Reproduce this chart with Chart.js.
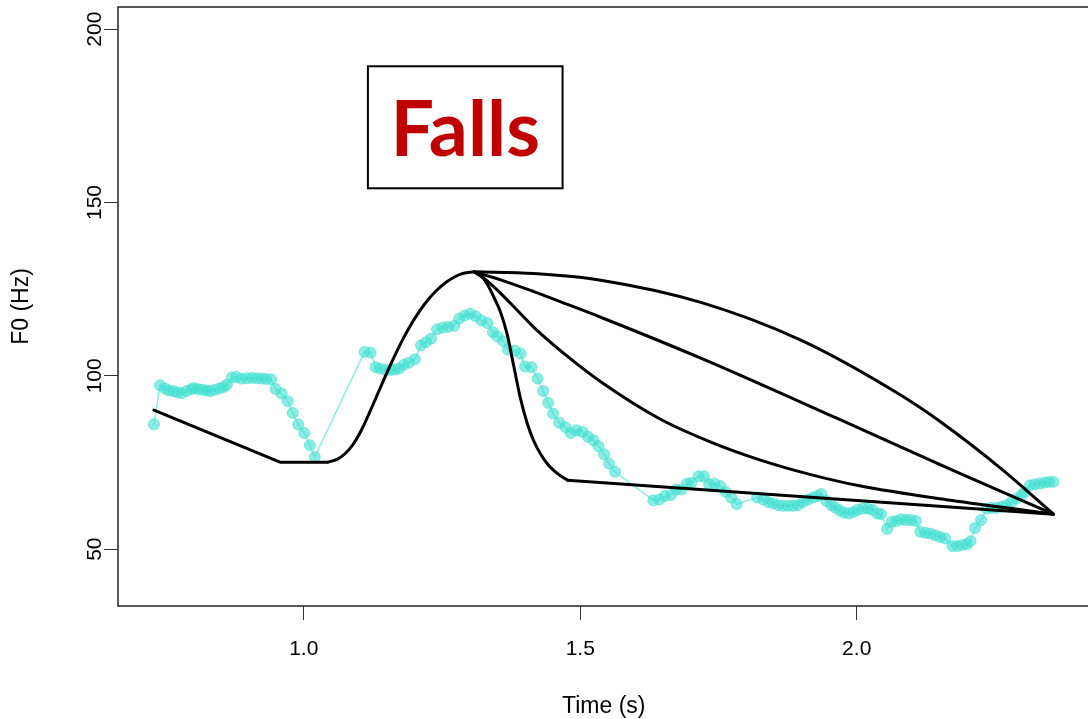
<!DOCTYPE html>
<html>
<head>
<meta charset="utf-8">
<script src="https://cdn.jsdelivr.net/npm/chart.js@4.4.1/dist/chart.umd.min.js"></script>
<style>
  html, body { margin: 0; padding: 0; background: #ffffff; overflow: hidden; }
  #wrap { width: 1088px; height: 719px; overflow: hidden; }
  canvas { display: block; }
</style>
</head>
<body>
<div id="wrap"><canvas id="chart" width="1096" height="719"></canvas></div>
<script>
// Measured F0 track (time in s, F0 in Hz)
const f0Time = [
  0.729, 0.740, 0.749, 0.756, 0.764, 0.772, 0.779, 0.788, 0.797, 0.802,
  0.809, 0.817, 0.824, 0.831, 0.839, 0.847, 0.855, 0.861, 0.870, 0.878,
  0.887, 0.897, 0.906, 0.915, 0.924, 0.932, 0.941, 0.949, 0.960, 0.971,
  0.980, 0.990, 1.001, 1.011, 1.020,
  1.110, 1.121, 1.130, 1.138, 1.148, 1.157, 1.164, 1.172, 1.181, 1.190,
  1.201, 1.212, 1.221, 1.230, 1.241, 1.251, 1.261, 1.272, 1.281, 1.291,
  1.301, 1.311, 1.321, 1.332, 1.342, 1.350, 1.361, 1.369, 1.382, 1.392,
  1.400, 1.412, 1.423, 1.433, 1.442, 1.451, 1.462, 1.473, 1.483, 1.493,
  1.504, 1.514, 1.524, 1.533, 1.543, 1.552, 1.563,
  1.632, 1.643, 1.653, 1.664, 1.673, 1.683, 1.693, 1.701, 1.714, 1.724,
  1.733, 1.743, 1.753, 1.763, 1.773, 1.783,
  1.820, 1.831, 1.840, 1.849, 1.858, 1.867, 1.876, 1.885, 1.894, 1.903,
  1.912, 1.921, 1.929, 1.936, 1.945, 1.954, 1.961, 1.969, 1.977, 1.986,
  1.994, 2.002, 2.011, 2.020, 2.028, 2.037, 2.044, 2.055, 2.063, 2.072,
  2.080, 2.089, 2.098, 2.107, 2.115, 2.124, 2.133, 2.142, 2.151, 2.160,
  2.173, 2.182, 2.191, 2.199, 2.206, 2.214, 2.225, 2.235, 2.244, 2.253,
  2.262, 2.271, 2.280, 2.289, 2.298, 2.304, 2.313, 2.322, 2.331, 2.340,
  2.348, 2.356
];
const f0Hz = [
  86.0, 97.3, 96.3, 95.8, 95.6, 95.2, 95.0, 95.6, 96.2, 96.5,
  96.1, 96.0, 95.8, 95.6, 96.0, 96.3, 96.8, 97.4, 99.5, 99.7,
  99.2, 99.3, 99.4, 99.3, 99.2, 99.1, 99.0, 96.2, 94.9, 92.7,
  89.3, 86.0, 83.5, 80.0, 76.6,
  106.9, 106.7, 102.5, 102.1, 101.7, 101.7, 101.8, 102.1, 103.2, 103.8,
  104.8, 108.8, 109.7, 110.7, 113.4, 113.9, 114.1, 114.4, 116.5, 117.4,
  117.9, 117.2, 116.0, 115.2, 112.6, 111.4, 110.0, 107.6, 107.3, 106.4,
  102.7, 102.5, 99.2, 95.6, 92.2, 89.1, 86.5, 85.2, 83.5, 84.3,
  83.8, 82.4, 81.4, 79.7, 77.4, 74.7, 72.3,
  64.1, 64.3, 65.3, 65.6, 67.2, 67.2, 68.9, 69.1, 71.0, 71.0,
  68.7, 68.9, 68.2, 66.5, 64.9, 63.0,
  64.9, 64.3, 63.6, 63.2, 62.7, 62.5, 62.5, 62.5, 62.7, 63.6,
  64.3, 64.9, 65.3, 65.9, 63.9, 62.7, 62.0, 61.2, 60.5, 60.3,
  60.7, 61.4, 61.7, 61.7, 61.4, 60.3, 60.1, 55.8, 57.9, 58.1,
  58.6, 58.4, 58.4, 58.1, 55.0, 54.7, 54.5, 54.0, 53.5, 53.1,
  50.9, 50.9, 51.2, 51.4, 52.3, 56.1, 58.4, 61.7, 61.9, 61.9,
  62.2, 62.7, 63.6, 64.6, 65.6, 66.5, 68.4, 68.7, 68.9, 69.2,
  69.4, 69.4
];

// Stylised contour: falling onset and low plateau
const onsetTime = [0.729, 0.957, 1.043];
const onsetHz = [90.1, 75.1, 75.1];

// Stylised contour: rise to the peak
const riseTime = [1.043, 1.060, 1.075, 1.090, 1.105, 1.120, 1.135, 1.150, 1.165, 1.180,
                  1.195, 1.210, 1.225, 1.240, 1.255, 1.270, 1.285, 1.300, 1.308];
const riseHz = [75.1, 75.9, 77.6, 80.4, 84.6, 89.8, 95.3, 100.8, 106.0, 110.8,
                115.1, 118.8, 122.0, 124.6, 126.7, 128.3, 129.4, 129.9, 130.0];

// Fall variants from the peak to the end point
const fallSteepTime = [1.308, 1.320, 1.332, 1.344, 1.356, 1.368, 1.380, 1.392, 1.404, 1.416,
                       1.428, 1.440, 1.452, 1.464, 1.477];
const fallSteepHz = [130.0, 129.0, 126.4, 122.6, 118.3, 111.9, 102.6, 93.4, 86.3, 81.2,
                     77.5, 74.7, 72.7, 71.2, 69.9];
const fallTailTime = [1.477, 2.356];
const fallTailHz = [69.9, 60.1];

const fallDecayTime = [1.308, 1.330, 1.356, 1.386, 1.416, 1.477, 1.537, 1.646, 1.736, 1.826,
                       1.917, 2.007, 2.170, 2.356];
const fallDecayHz = [130.0, 127.6, 123.8, 118.9, 114.0, 105.6, 98.3, 87.4, 80.9, 75.7,
                     71.5, 68.2, 64.1, 60.1];

const fallEvenTime = [1.308, 1.356, 1.416, 1.477, 1.537, 1.718, 1.965, 2.170, 2.356];
const fallEvenHz = [130.0, 127.7, 124.3, 120.6, 116.9, 105.1, 87.7, 73.0, 60.1];

const fallLateTime = [1.308, 1.416, 1.537, 1.718, 1.899, 2.080, 2.152, 2.260, 2.356];
const fallLateHz = [130.0, 129.5, 127.6, 121.2, 110.3, 94.4, 86.7, 73.4, 60.1];

// Axes
const xTicks = [1.0, 1.5, 2.0];
const yTicks = [50, 100, 150, 200];
const xRange = [0.664, 2.421];
const yRange = [33.6, 206.4];

// Panel label, placed in data units
const panelLabel = 'Falls';
const panelBox = { x0: 1.116, x1: 1.468, y0: 154.1, y1: 189.3 };

const pts = (xs, ys) => xs.map((x, i) => ({ x: x, y: ys[i] }));
const FONT = "'Liberation Sans', Arial, sans-serif";

const contour = (xs, ys, smooth) => ({
  data: pts(xs, ys),
  borderColor: '#000000',
  borderWidth: 3,
  pointRadius: 0,
  fill: false,
  cubicInterpolationMode: smooth ? 'monotone' : 'default',
  tension: 0,
  borderCapStyle: 'round',
  borderJoinStyle: 'round',
  order: 1
});

const framePlugin = {
  id: 'frameAndLabel',
  afterDraw(chart) {
    const { ctx, chartArea: a, scales: { x, y } } = chart;
    ctx.save();
    ctx.strokeStyle = '#222222';
    ctx.lineWidth = 1.5;
    ctx.strokeRect(a.left, a.top, a.right - a.left, a.bottom - a.top);

    const bx0 = x.getPixelForValue(panelBox.x0);
    const bx1 = x.getPixelForValue(panelBox.x1);
    const by0 = y.getPixelForValue(panelBox.y1);
    const by1 = y.getPixelForValue(panelBox.y0);
    ctx.fillStyle = '#ffffff';
    ctx.fillRect(bx0, by0, bx1 - bx0, by1 - by0);
    ctx.strokeStyle = '#000000';
    ctx.lineWidth = 2;
    ctx.strokeRect(bx0, by0, bx1 - bx0, by1 - by0);

    ctx.fillStyle = '#C00000';
    ctx.font = "bold 77px Lato, 'Open Sans', sans-serif";
    ctx.textAlign = 'center';
    ctx.textBaseline = 'alphabetic';
    ctx.fillText(panelLabel, (bx0 + bx1) / 2, by0 + 90);
    ctx.restore();
  }
};

new Chart(document.getElementById('chart'), {
  type: 'line',
  data: {
    datasets: [
      contour(onsetTime, onsetHz, false),
      contour(riseTime, riseHz, true),
      contour(fallSteepTime, fallSteepHz, true),
      contour(fallTailTime, fallTailHz, false),
      contour(fallDecayTime, fallDecayHz, true),
      contour(fallEvenTime, fallEvenHz, true),
      contour(fallLateTime, fallLateHz, true),
      {
        data: pts(f0Time, f0Hz),
        borderColor: 'rgba(64,224,208,0.6)',
        borderWidth: 1.5,
        pointRadius: 5.5,
        pointBackgroundColor: 'rgba(64,224,208,0.6)',
        pointBorderColor: 'rgba(64,224,208,0.6)',
        pointBorderWidth: 1,
        tension: 0,
        fill: false,
        order: 2
      }
    ]
  },
  options: {
    responsive: false,
    animation: false,
    devicePixelRatio: 1,
    layout: { padding: { top: 7, right: 3, left: 0, bottom: 0 } },
    plugins: { legend: { display: false }, tooltip: { enabled: false } },
    scales: {
      x: {
        type: 'linear',
        min: xRange[0],
        max: xRange[1],
        afterBuildTicks: s => { s.ticks = xTicks.map(v => ({ value: v })); },
        afterFit: s => { s.height = 113; },
        grid: { drawOnChartArea: false, drawTicks: true, tickLength: 14, color: '#333333', lineWidth: 1 },
        border: { display: false },
        ticks: {
          padding: 17, minRotation: 0, maxRotation: 0, autoSkip: false,
          color: '#000000', font: { family: FONT, size: 21 },
          callback: v => Number(v).toFixed(1)
        },
        title: {
          display: true, text: 'Time (s)', color: '#000000',
          font: { family: FONT, size: 23, lineHeight: 1 },
          padding: { top: 0, bottom: 0.5 }
        }
      },
      y: {
        type: 'linear',
        min: yRange[0],
        max: yRange[1],
        afterBuildTicks: s => { s.ticks = yTicks.map(v => ({ value: v })); },
        afterFit: s => { s.width = 118; },
        grid: { drawOnChartArea: false, drawTicks: true, tickLength: 14, color: '#333333', lineWidth: 1 },
        border: { display: false },
        ticks: {
          minRotation: 90, maxRotation: 90, crossAlign: 'center', padding: -9, autoSkip: false,
          color: '#000000', font: { family: FONT, size: 21 },
          callback: v => String(v)
        },
        title: {
          display: true, text: 'F0 (Hz)', color: '#000000',
          font: { family: FONT, size: 23, lineHeight: 1 },
          padding: { top: 10.5, bottom: 0 }
        }
      }
    }
  },
  plugins: [framePlugin]
});
</script>
</body>
</html>
